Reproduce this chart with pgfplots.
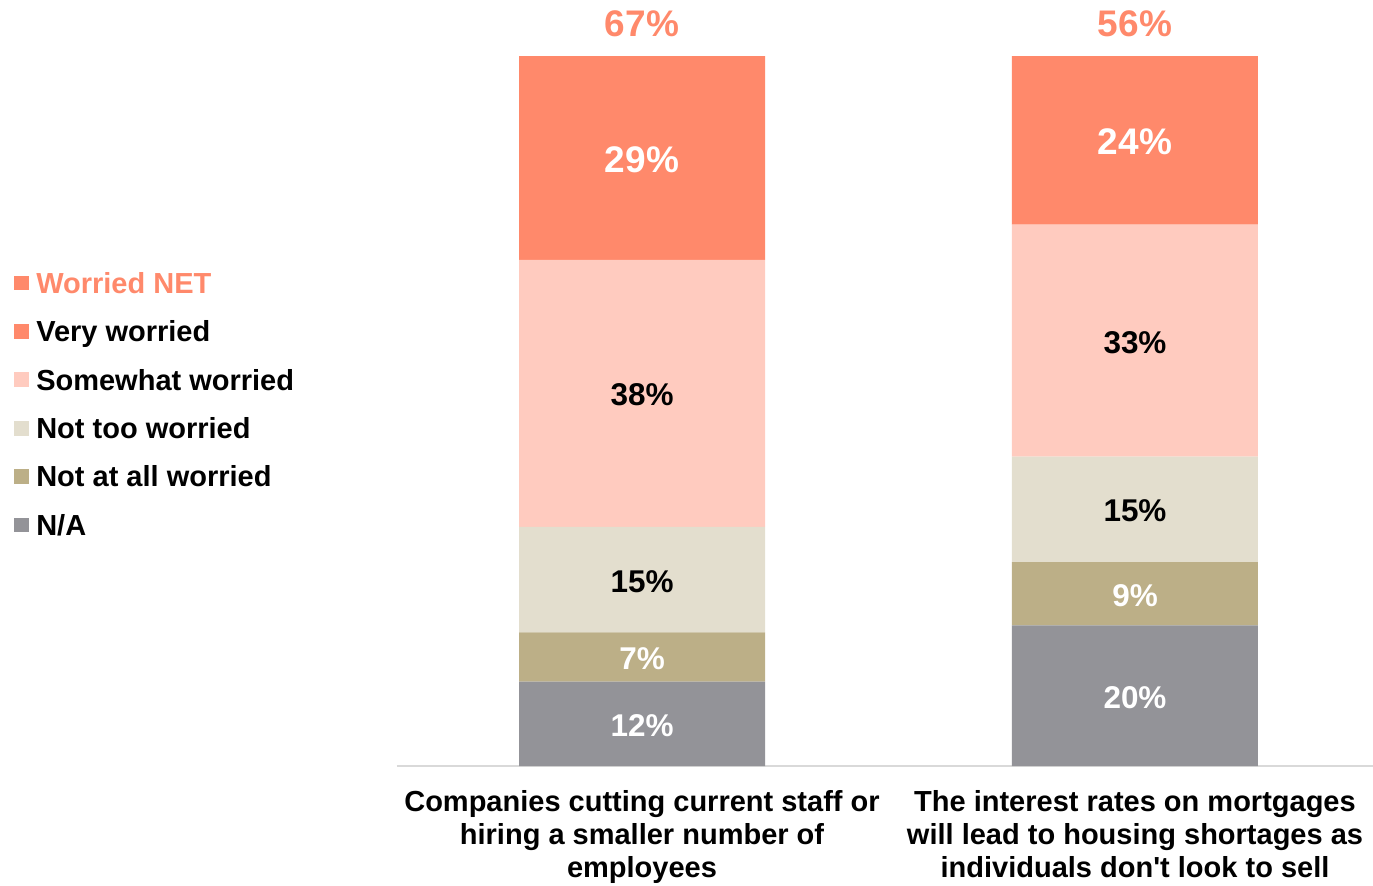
\documentclass[border=0pt]{standalone}
\usepackage{pgfplots}
\pgfplotsset{compat=1.18}
\usepackage{fontspec}
\setmainfont{Liberation Sans}
\definecolor{verycol}{HTML}{FF896B}
\definecolor{somecol}{HTML}{FFCBBF}
\definecolor{notoocol}{HTML}{E3DECE}
\definecolor{notallcol}{HTML}{BCAF87}
\definecolor{nacol}{HTML}{939398}
\definecolor{axiscol}{HTML}{D9D9D9}
\newcommand{\fs}{\fontsize{21.75pt}{25pt}\selectfont\bfseries}
\newcommand{\fm}{\fontsize{23.6pt}{27pt}\selectfont\bfseries}
\newcommand{\fb}{\fontsize{27.75pt}{32pt}\selectfont\bfseries}
\pgfplotsset{sqlegend/.style={legend image code/.code={\fill[##1] (0pt,-5.6pt) rectangle (11.25pt,5.6pt);}}}
\newcommand{\seglabels}{%
\begin{scope}[yshift=-1.3pt]
\node[font=\fm, text=white] at (axis cs:0,6) {12\%};
\node[font=\fm, text=white] at (axis cs:0,15.5) {7\%};
\node[font=\fm, text=black] at (axis cs:0,26.5) {15\%};
\node[font=\fm, text=black] at (axis cs:0,53) {38\%};
\node[font=\fb, text=white] at (axis cs:0,86.5) {29\%};
\node[font=\fm, text=white] at (axis cs:1,10) {20\%};
\node[font=\fm, text=white] at (axis cs:1,24.5) {9\%};
\node[font=\fm, text=black] at (axis cs:1,36.5) {15\%};
\node[font=\fm, text=black] at (axis cs:1,60.5) {33\%};
\node[font=\fb, text=white] at (axis cs:1,89) {24\%};
\node[font=\fb, text=verycol] at (axis cs:0,105.84) {67\%};
\node[font=\fb, text=verycol] at (axis cs:1,105.84) {56\%};
\end{scope}
}
\begin{document}
\begin{tikzpicture}
\useasboundingbox (-297.75pt,-89.25pt) rectangle (732pt,574.5pt);
\begin{axis}[
  at={(0pt,0pt)}, anchor=south west,
  scale only axis, width=732pt, height=574.5pt,
  ybar stacked, bar width=184.5pt,
  xmin=-0.4970, xmax=1.4828, ymin=0, ymax=108.97,
  enlarge x limits=false, enlarge y limits=false,
  axis y line=none, axis x line=bottom,
  x axis line style={-, draw=axiscol, line width=1.5pt},
  xtick={0,1}, major tick length=0pt,
  xticklabels={{Companies cutting current staff or\\hiring a smaller number of\\employees},{The interest rates on mortgages\\will lead to housing shortages as\\individuals don\textquotesingle t look to sell}},
  xticklabel style={align=center, font=\fs, anchor=north, inner sep=0pt, yshift=-18pt},
  clip=false,
  every axis plot post/.append style={sqlegend},
  reverse legend,
  legend cell align=left,
  legend style={at={(-0.3924,0.4726)}, anchor=west, draw=none, fill=none, inner sep=0pt, font=\fs, row sep=20.7pt, column sep=5.25pt, nodes={inner sep=0pt, text height=15.6pt, text depth=0pt, anchor=west}},
  after end axis/.code={\seglabels},
]
\addplot[fill=nacol, draw=none] coordinates {(0,12) (1,20)};
\addlegendentry{N/A}
\addplot[fill=notallcol, draw=none] coordinates {(0,7) (1,9)};
\addlegendentry{Not at all worried}
\addplot[fill=notoocol, draw=none] coordinates {(0,15) (1,15)};
\addlegendentry{Not too worried}
\addplot[fill=somecol, draw=none] coordinates {(0,38) (1,33)};
\addlegendentry{Somewhat worried}
\addplot[fill=verycol, draw=none] coordinates {(0,29) (1,24)};
\addlegendentry{Very worried}
\addlegendimage{sqlegend, fill=verycol, draw=none}
\addlegendentry{\textcolor{verycol}{Worried NET}}
\end{axis}
\end{tikzpicture}
\end{document}
